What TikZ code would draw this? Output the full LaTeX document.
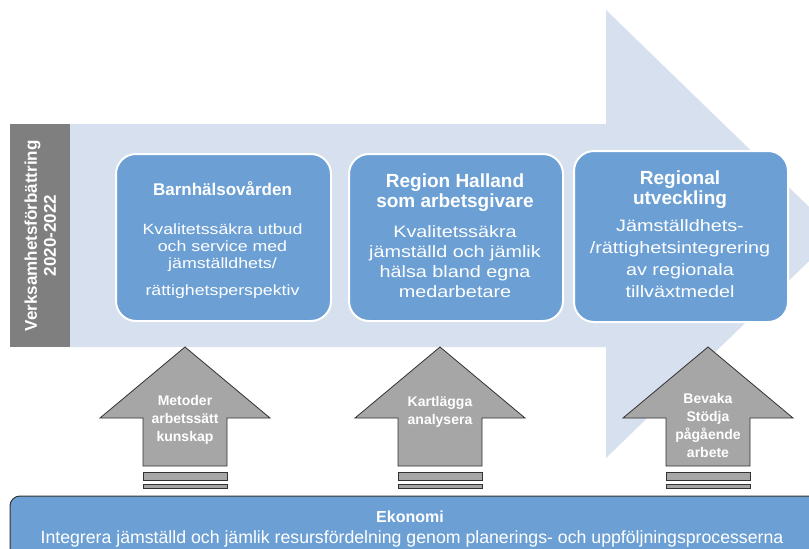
\documentclass[tikz,border=0pt]{standalone}
\usepackage{fontspec}
\setmainfont{Liberation Sans}
\newfontfamily\widefont{Liberation Sans}[FakeStretch=1.2]
\definecolor{arrowblue}{RGB}{214,224,238}
\definecolor{boxblue}{RGB}{108,160,213}
\definecolor{labelgray}{RGB}{127,127,127}
\definecolor{upgray}{RGB}{166,166,166}
\definecolor{edgegray}{RGB}{50,50,50}
\tikzset{
  bluebox/.style={draw=white, line width=2pt, fill=boxblue, rounded corners=20pt, anchor=north west, inner sep=0pt},
  titletext/.style={text=white, align=center, anchor=base, inner sep=0pt, font=\bfseries\fontsize{19}{20}\selectfont},
  bodytext/.style={text=white, align=center, anchor=base, inner sep=0pt, font=\widefont\fontsize{16.5}{21.5}\selectfont},
  uparrow/.style={fill=upgray, draw=edgegray, line width=0.8pt, line join=miter},
  uptext/.style={text=white, align=center, anchor=base, inner sep=0pt, font=\bfseries\fontsize{14}{18}\selectfont},
}
\newcommand{\uparr}[2]{%
  \draw[uparrow] (#1,347) -- (#1+85,418) -- (#1+42,418) -- (#1+42,466) -- (#1-42,466) -- (#1-42,418) -- (#1-85,418) -- cycle;
  \draw[uparrow] (#1-42,472) rectangle (#1+42,480);
  \draw[uparrow] (#1-42,484) rectangle (#1+42,488);
}
\begin{document}
\begin{tikzpicture}[x=1pt,y=-1pt]
\useasboundingbox (0,0) rectangle (809,549);
\clip (0,0) rectangle (809,549);
\fill[white] (0,0) rectangle (809,549);
% big arrow
\fill[arrowblue] (69,124) -- (606,124) -- (606,10) -- (837,234) -- (606,458) -- (606,347) -- (69,347) -- cycle;
% gray label
\node[fill=labelgray, minimum width=60pt, minimum height=223pt, anchor=north west, inner sep=0pt] (lab) at (10,124) {};
\node[rotate=90, text=white, align=center, font=\bfseries\fontsize{17}{19}\selectfont] (labtxt) at (lab.center) {Verksamhetsförbättring\\2020-2022};
% boxes
\node[bluebox, minimum width=215pt, minimum height=167pt] (b1) at (115,153) {};
\node[bluebox, minimum width=214pt, minimum height=167pt] (b2) at (348,153) {};
\node[bluebox, minimum width=214pt, minimum height=171pt] (b3) at (573,150) {};
\node[titletext, font=\bfseries\fontsize{17}{20}\selectfont] (t1) at (222.5,195) {Barnhälsovården};
\node[bodytext, font=\widefont\fontsize{14.8}{17}\selectfont] (d1) at (222.5,295) {Kvalitetssäkra utbud\\och service med\\jämställdhets/\\[10pt]rättighetsperspektiv};
\node[titletext] (t2) at (455,207) {Region Halland\\som arbetsgivare};
\node[bodytext, font=\widefont\fontsize{16.5}{20}\selectfont] (d2) at (455,297) {Kvalitetssäkra\\jämställd och jämlik\\hälsa bland egna\\medarbetare};
\node[titletext, font=\bfseries\fontsize{19}{19.5}\selectfont] (t3) at (680,204) {Regional\\utveckling};
\node[bodytext, font=\widefont\fontsize{16.5}{22}\selectfont] (d3) at (680,297) {Jämställdhets-\\/rättighetsintegrering\\av regionala\\tillväxtmedel};
% up arrows
\uparr{185}{}
\uparr{440}{}
\uparr{708}{}
\node[uptext] (u1) at (185,441) {Metoder\\arbetssätt\\kunskap};
\node[uptext] (u2) at (440,424) {Kartlägga\\analysera};
\node[uptext, font=\bfseries\fontsize{14}{18}\selectfont] (u3) at (708,457) {Bevaka\\Stödja\\pågående\\arbete};
% economy box
\draw[fill=boxblue, draw=edgegray, line width=1pt, rounded corners=10pt] (10,570) -- (10,496) -- (830,496) -- (830,570);
\node[text=white, anchor=base, inner sep=0pt, font=\bfseries\fontsize{16}{18}\selectfont] (ek) at (410,522) {Ekonomi};
\node[text=white, anchor=base, inner sep=0pt, font=\fontsize{17.7}{18}\selectfont] (ekd) at (412,543) {Integrera jämställd och jämlik resursfördelning genom planerings- och uppföljningsprocesserna};
\end{tikzpicture}
\end{document}
